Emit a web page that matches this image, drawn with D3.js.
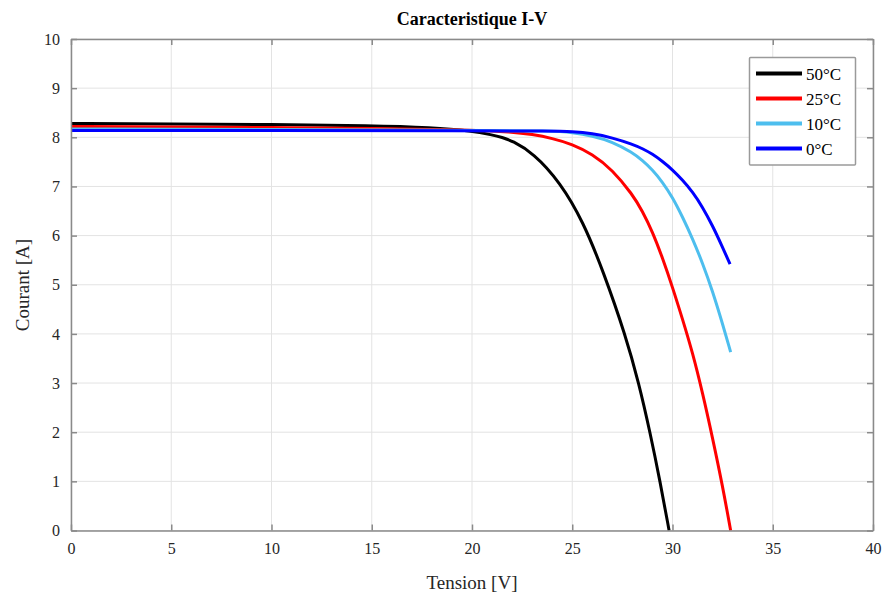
<!DOCTYPE html>
<html>
<head>
<meta charset="utf-8">
<script src="https://cdn.jsdelivr.net/npm/d3@7"></script>
<style>
  html, body { margin: 0; padding: 0; background: #ffffff; }
  svg { display: block; font-family: "Liberation Serif", "Times New Roman", serif; }
</style>
</head>
<body>
<svg id="chart" width="883" height="601"></svg>
<script>
// I-V characteristic of a PV module at four cell temperatures
const series = ["50°C", "25°C", "10°C", "0°C"];
const colors = ["#000000", "#ff0000", "#4dbeee", "#0000ff"];

// [voltage (V), current (A)] pairs per temperature
const curve50 = [[0, 8.28], [5, 8.27], [10, 8.26], [15, 8.24], [18, 8.2], [20, 8.13], [21, 8.05],
  [21.5, 8.0], [22, 7.93], [23.06, 7.68], [24.39, 7.09], [25.55, 6.28], [26.55, 5.27],
  [27.66, 3.97], [28.32, 3.0], [28.88, 2.0], [29.38, 1.0], [29.83, 0]];
const curve25 = [[0, 8.22], [5, 8.21], [10, 8.2], [15, 8.18], [20, 8.15], [22, 8.11], [23, 8.06],
  [24, 7.98], [25, 7.86], [26, 7.66], [27, 7.34], [28, 6.84], [28.5, 6.5], [29, 6.08],
  [29.5, 5.55], [30, 4.95], [30.5, 4.3], [31, 3.62], [31.5, 2.8], [32, 1.88], [32.5, 0.9], [32.9, 0]];
const curve10 = [[0, 8.17], [10, 8.16], [20, 8.14], [24, 8.13], [25, 8.1], [26, 8.03], [27, 7.91],
  [28, 7.69], [28.5, 7.53], [29, 7.34], [29.5, 7.09], [30, 6.78], [30.5, 6.38], [31, 5.94],
  [31.5, 5.44], [32, 4.87], [32.5, 4.2], [32.9, 3.63]];
const curve0 = [[0, 8.14], [10, 8.14], [20, 8.13], [24, 8.13], [25, 8.12], [26, 8.08], [27, 7.99],
  [28, 7.86], [28.5, 7.77], [29, 7.66], [29.5, 7.51], [30, 7.34], [30.5, 7.13], [31, 6.89],
  [31.5, 6.58], [32, 6.2], [32.5, 5.76], [32.87, 5.42]];
const curves = [curve50, curve25, curve10, curve0];

const xTicks = [0, 5, 10, 15, 20, 25, 30, 35, 40];
const yTicks = [0, 1, 2, 3, 4, 5, 6, 7, 8, 9, 10];
const titleText = "Caracteristique I-V";
const xLabel = "Tension [V]";
const yLabel = "Courant [A]";

const svg = d3.select("#chart");
const plotLeft = 71, plotRight = 873, plotTop = 39, plotBottom = 530.5;

const x = d3.scaleLinear().domain([0, 40]).range([plotLeft, plotRight]);
const y = d3.scaleLinear().domain([0, 10]).range([plotBottom, plotTop]);

// grid
const grid = svg.append("g");
grid.selectAll("line.gx").data(xTicks).join("line")
  .attr("x1", d => x(d)).attr("x2", d => x(d))
  .attr("y1", plotTop).attr("y2", plotBottom)
  .attr("stroke", "#e3e3e3").attr("stroke-width", 1);
grid.selectAll("line.gy").data(yTicks).join("line")
  .attr("x1", plotLeft).attr("x2", plotRight)
  .attr("y1", d => y(d)).attr("y2", d => y(d))
  .attr("stroke", "#e3e3e3").attr("stroke-width", 1);

// curves
const line = d3.line().x(d => x(d[0])).y(d => y(d[1])).curve(d3.curveBasis);
svg.append("g").selectAll("path").data(curves).join("path")
  .attr("d", line)
  .attr("fill", "none")
  .attr("stroke", (d, i) => colors[i])
  .attr("stroke-width", 3)
  .attr("stroke-linejoin", "round");

// box axes with inward ticks
const axisColor = "#8a8a8a";
const tickLen = 6;
const axB = svg.append("g").attr("transform", `translate(0,${plotBottom})`)
  .call(d3.axisBottom(x).tickValues(xTicks).tickSizeInner(-tickLen).tickSizeOuter(0).tickPadding(12));
const axT = svg.append("g").attr("transform", `translate(0,${plotTop})`)
  .call(d3.axisTop(x).tickValues(xTicks).tickSizeInner(-tickLen).tickSizeOuter(0).tickFormat(""));
const axL = svg.append("g").attr("transform", `translate(${plotLeft},0)`)
  .call(d3.axisLeft(y).tickValues(yTicks).tickSizeInner(-tickLen).tickSizeOuter(0).tickPadding(11));
const axR = svg.append("g").attr("transform", `translate(${plotRight},0)`)
  .call(d3.axisRight(y).tickValues(yTicks).tickSizeInner(-tickLen).tickSizeOuter(0).tickFormat(""));
[axB, axT, axL, axR].forEach(g => {
  g.select(".domain").attr("stroke", axisColor).attr("stroke-width", 1.5);
  g.selectAll(".tick line").attr("stroke", axisColor).attr("stroke-width", 1.5);
  g.selectAll(".tick text").attr("fill", "#262626")
    .style("font-family", "'Liberation Serif', serif").style("font-size", "16px");
});

// title and axis labels
svg.append("text").attr("x", 472).attr("y", 25).attr("text-anchor", "middle")
  .style("font-size", "18px").style("font-weight", "bold").attr("fill", "#000")
  .text(titleText);
svg.append("text").attr("x", 472).attr("y", 589).attr("text-anchor", "middle")
  .style("font-size", "19px").attr("fill", "#262626").text(xLabel);
svg.append("text").attr("transform", "translate(29,285) rotate(-90)").attr("text-anchor", "middle")
  .style("font-size", "19px").attr("fill", "#262626").text(yLabel);

// legend
const lg = svg.append("g");
lg.append("rect").attr("x", 749.5).attr("y", 57.5).attr("width", 106).attr("height", 107.5)
  .attr("fill", "#ffffff").attr("stroke", "#9a9a9a").attr("stroke-width", 1.5).attr("rx", 1);
series.forEach((s, i) => {
  const yy = 73.5 + i * 25;
  lg.append("line").attr("x1", 756).attr("x2", 802).attr("y1", yy).attr("y2", yy)
    .attr("stroke", colors[i]).attr("stroke-width", 4);
  lg.append("text").attr("x", 806).attr("y", yy + 6).style("font-size", "17px")
    .attr("fill", "#000").text(s);
});
</script>
</body>
</html>
